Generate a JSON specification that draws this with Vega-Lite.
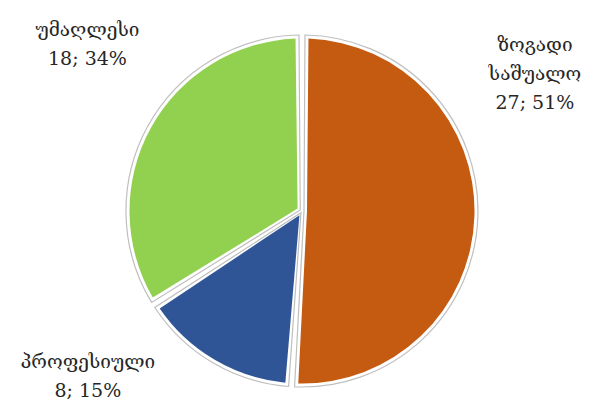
{
  "$schema": "https://vega.github.io/schema/vega-lite/v6.json",
  "width": 600,
  "height": 390,
  "autosize": "none",
  "padding": {"top": 16, "left": 2, "right": 0, "bottom": 0},
  "background": "white",
  "config": {"view": {"stroke": null}},
  "data": {
    "values": [
      {"category": "ზოგადი საშუალო", "value": 27, "order": 1},
      {"category": "პროფესიული", "value": 8, "order": 2},
      {"category": "უმაღლესი", "value": 18, "order": 3}
    ]
  },
  "transform": [
    {"joinaggregate": [{"op": "sum", "field": "value", "as": "total"}]},
    {"calculate": "round(datum.value / datum.total * 100)", "as": "pct"},
    {"calculate": "replace(datum.category, ' ', '\\n') + '\\n' + datum.value + '; ' + datum.pct + '%'", "as": "label"}
  ],
  "encoding": {
    "theta": {"field": "value", "type": "quantitative", "stack": true},
    "order": {"field": "order", "type": "quantitative"}
  },
  "layer": [
    {
      "mark": {"type": "arc", "outerRadius": 176, "innerRadius": 2, "padAngle": 0.034, "fill": "white", "stroke": "#BFBFBF", "strokeWidth": 1.2}
    },
    {
      "mark": {"type": "arc", "outerRadius": 172.5, "innerRadius": 5, "padAngle": 0.075},
      "encoding": {
        "color": {
          "field": "category",
          "type": "nominal",
          "scale": {"domain": ["ზოგადი საშუალო", "პროფესიული", "უმაღლესი"], "range": ["#C55A11", "#2F5597", "#92D050"]},
          "legend": null
        }
      }
    },
    {
      "mark": {"type": "text", "radius": 233, "dy": -173, "font": "DejaVu Serif", "fontSize": 19, "lineHeight": 29, "lineBreak": "\n", "align": "center", "baseline": "middle", "color": "#262626"},
      "encoding": {
        "text": {"condition": {"test": "datum.order == 1", "field": "label"}, "value": ""}
      }
    },
    {
      "mark": {"type": "text", "radius": 195, "dx": -115, "dy": -17, "font": "DejaVu Serif", "fontSize": 19, "lineHeight": 29, "lineBreak": "\n", "align": "center", "baseline": "middle", "color": "#262626"},
      "encoding": {
        "text": {"condition": {"test": "datum.order == 2", "field": "label"}, "value": ""}
      }
    },
    {
      "mark": {"type": "text", "radius": 245, "dy": -63, "font": "DejaVu Serif", "fontSize": 19, "lineHeight": 29, "lineBreak": "\n", "align": "center", "baseline": "middle", "color": "#262626"},
      "encoding": {
        "text": {"condition": {"test": "datum.order == 3", "field": "label"}, "value": ""}
      }
    }
  ]
}
